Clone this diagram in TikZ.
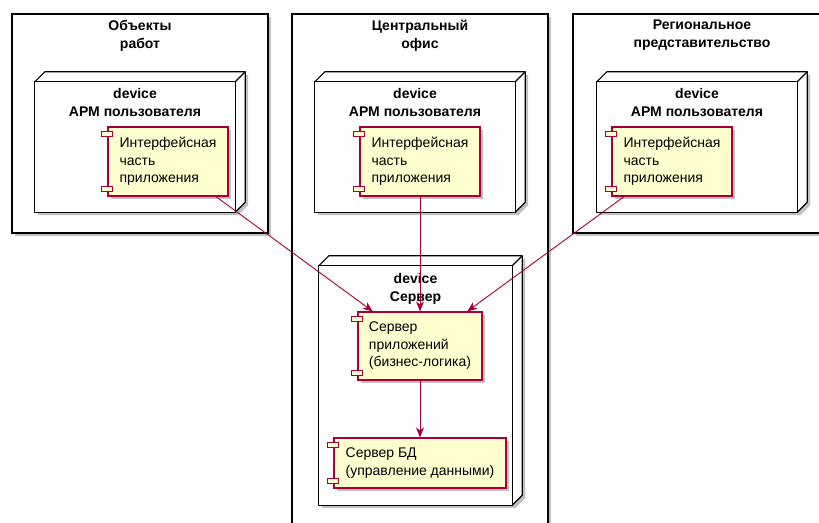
\documentclass[tikz,border=0pt]{standalone}
\usepackage{fontspec}
\setmainfont{Liberation Sans}
\usetikzlibrary{arrows.meta,positioning,calc,shadows}
\definecolor{PumlRed}{HTML}{A80036}
\definecolor{PumlYellow}{HTML}{FEFECE}
% 3D box behind a device face
\newcommand{\devbox}[1]{%
  \fill[white,shadowed] (#1.north west) -- ($(#1.north west)+(10,-10)$) -- ($(#1.north east)+(10,-10)$)
    -- ($(#1.south east)+(10,-10)$) -- (#1.south east) -- (#1.south west) -- cycle;
  \draw[boxline] (#1.north west) -- ($(#1.north west)+(10,-10)$) -- ($(#1.north east)+(10,-10)$)
    -- ($(#1.south east)+(10,-10)$) -- (#1.south east);
  \draw[boxline] (#1.north west) rectangle (#1.south east);
  \draw[boxline] (#1.north east) -- ($(#1.north east)+(10,-10)$);
}
% two little ports of a component
\newcommand{\ports}[1]{%
  \draw[port] ($(#1.north west)+(-5.5,5)$) rectangle ++(11,5);
  \draw[port] ($(#1.south west)+(-5.5,-10)$) rectangle ++(11,5);
}

\begin{document}
\begin{tikzpicture}[x=1pt,y=-1pt,>=Stealth,
  shadowed/.style={drop shadow={shadow xshift=3pt,shadow yshift=-3pt,opacity=0.35,fill=black!70}},
  boxline/.style={draw=black,line width=1.2pt,line join=round},
  frame/.style={draw=black,line width=1.3pt,fill=white,shadowed,inner sep=0pt},
  devface/.style={inner sep=0pt},
  title/.style={align=center,inner sep=2pt,font=\fontsize{14}{18}\selectfont\bfseries},
  comp/.style={draw=PumlRed,fill=PumlYellow,line width=1.2pt,shadowed,align=left,
    inner xsep=11pt,inner ysep=4pt,font=\fontsize{14}{17.5}\selectfont},
  port/.style={draw=PumlRed,fill=PumlYellow,line width=1pt},
  flow/.style={-{Stealth[length=10pt,width=8pt,inset=3pt]},draw=PumlRed,line width=0.9pt}]
  \useasboundingbox (0,0) rectangle (819,522);
  \clip (0,0) rectangle (819,522);

  % frames
  \node[frame,minimum width=256pt,minimum height=219pt] (frObj) at (140,123.5) {};
  \node[title,below=4.5pt of frObj.north] (tObj) {Объекты\\работ};
  \node[frame,minimum width=256pt,minimum height=526pt] (frCen) at (420,277) {};
  \node[title,below=4.5pt of frCen.north] (tCen) {Центральный\\офис};
  \node[frame,minimum width=258pt,minimum height=219pt] (frReg) at (702,123.5) {};
  \node[title,below=4.5pt of frReg.north] (tReg) {Региональное\\представительство};

  % devices
  \path node[devface,minimum width=200pt,minimum height=130pt] (devObj) at (135,147) {};
  \devbox{devObj}
  \node[title,below=4pt of devObj.north] (tdObj) {device\\АРМ пользователя};
  \path node[devface,minimum width=200pt,minimum height=130pt] (devCen) at (415,147) {};
  \devbox{devCen}
  \node[title,below=4pt of devCen.north] (tdCen) {device\\АРМ пользователя};
  \path node[devface,minimum width=200pt,minimum height=130pt] (devReg) at (697,147) {};
  \devbox{devReg}
  \node[title,below=4pt of devReg.north] (tdReg) {device\\АРМ пользователя};
  \path node[devface,minimum width=193pt,minimum height=239pt] (devSrv) at (415.5,385.5) {};
  \devbox{devSrv}
  \node[title,below=5pt of devSrv.north] (tdSrv) {device\\Сервер};

  % components
  \node[comp,minimum width=120pt,minimum height=69pt] (uiObj) at (168,161.5) {Интерфейсная\\часть\\приложения};
  \ports{uiObj}
  \node[comp,minimum width=120pt,minimum height=69pt] (uiCen) at (420,161.5) {Интерфейсная\\часть\\приложения};
  \ports{uiCen}
  \node[comp,minimum width=120pt,minimum height=69pt] (uiReg) at (672,161.5) {Интерфейсная\\часть\\приложения};
  \ports{uiReg}
  \node[comp,minimum width=122pt,minimum height=68pt] (appSrv) at (420,346) {Сервер\\приложений\\(бизнес-логика)};
  \ports{appSrv}
  \node[comp,minimum width=172pt,minimum height=50pt] (dbSrv) at (420,463) {Сервер БД\\(управление данными)};
  \ports{dbSrv}

  % links
  \draw[flow] (uiObj) -- (appSrv);
  \draw[flow] (uiCen) -- (appSrv);
  \draw[flow] (uiReg) -- (appSrv);
  \draw[flow] (appSrv) -- (dbSrv);
\end{tikzpicture}
\end{document}
